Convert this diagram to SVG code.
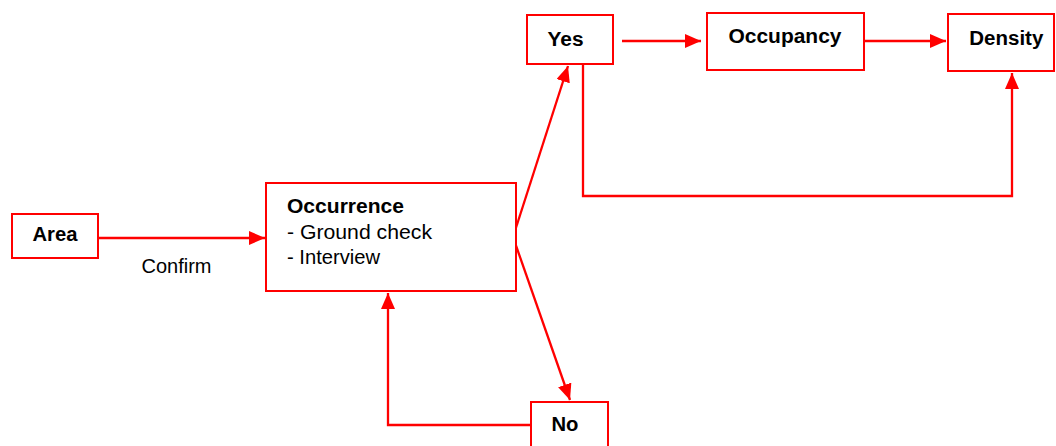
<svg xmlns="http://www.w3.org/2000/svg" width="1056" height="446" viewBox="0 0 1056 446">
<style>
.box{fill:#fff;stroke:#ff0000;stroke-width:2}
.ln{fill:none;stroke:#ff0000;stroke-width:2.3}
.t{font-family:"Liberation Sans",Arial,sans-serif;font-size:19.5px;fill:#000}
.b{font-weight:bold}
</style>
<defs>
<marker id="ah" markerUnits="userSpaceOnUse" markerWidth="17" markerHeight="15" refX="16" refY="7" orient="auto">
<path d="M0,0 L16,7 L0,14 Z" fill="#ff0000"/>
</marker>
</defs>
<rect width="1056" height="446" fill="#fff"/>
<g id="connectors">
<path class="ln" d="M98,238 H265" marker-end="url(#ah)"/>
<path class="ln" d="M513,237 L568,66" marker-end="url(#ah)"/>
<path class="ln" d="M513,237 L570,400" marker-end="url(#ah)"/>
<path class="ln" d="M531,425 H388 V293" marker-end="url(#ah)"/>
<path class="ln" d="M622,41 H701" marker-end="url(#ah)"/>
<path class="ln" d="M864,41 H946" marker-end="url(#ah)"/>
<path class="ln" d="M583,64 V196 H1012 V73" marker-end="url(#ah)"/>
</g>
<g id="area">
<rect class="box" x="12" y="214" width="86" height="44"/>
<text class="t b" x="55" y="240.5" text-anchor="middle" textLength="45" lengthAdjust="spacingAndGlyphs">Area</text>
</g>
<g id="confirm-label">
<text class="t" x="141.5" y="273.3" textLength="70" lengthAdjust="spacingAndGlyphs">Confirm</text>
</g>
<g id="occurrence">
<rect class="box" x="266" y="183" width="250" height="108"/>
<text class="t b" x="287" y="213" textLength="117" lengthAdjust="spacingAndGlyphs">Occurrence</text>
<text class="t" x="287" y="239" textLength="145" lengthAdjust="spacingAndGlyphs">- Ground check</text>
<text class="t" x="287" y="263.5" textLength="93" lengthAdjust="spacingAndGlyphs">- Interview</text>
</g>
<g id="yes">
<rect class="box" x="527" y="15" width="86" height="49"/>
<text class="t b" x="565.5" y="46" text-anchor="middle" textLength="36" lengthAdjust="spacingAndGlyphs">Yes</text>
</g>
<g id="occupancy">
<rect class="box" x="707" y="13" width="157" height="57"/>
<text class="t b" x="785" y="43" text-anchor="middle" textLength="113" lengthAdjust="spacingAndGlyphs">Occupancy</text>
</g>
<g id="density">
<rect class="box" x="948" y="14" width="106" height="57"/>
<text class="t b" x="1006.3" y="45" text-anchor="middle" textLength="74" lengthAdjust="spacingAndGlyphs">Density</text>
</g>
<g id="no">
<rect class="box" x="531" y="402" width="77" height="50"/>
<text class="t b" x="565" y="430.5" text-anchor="middle" textLength="27" lengthAdjust="spacingAndGlyphs">No</text>
</g>
</svg>
